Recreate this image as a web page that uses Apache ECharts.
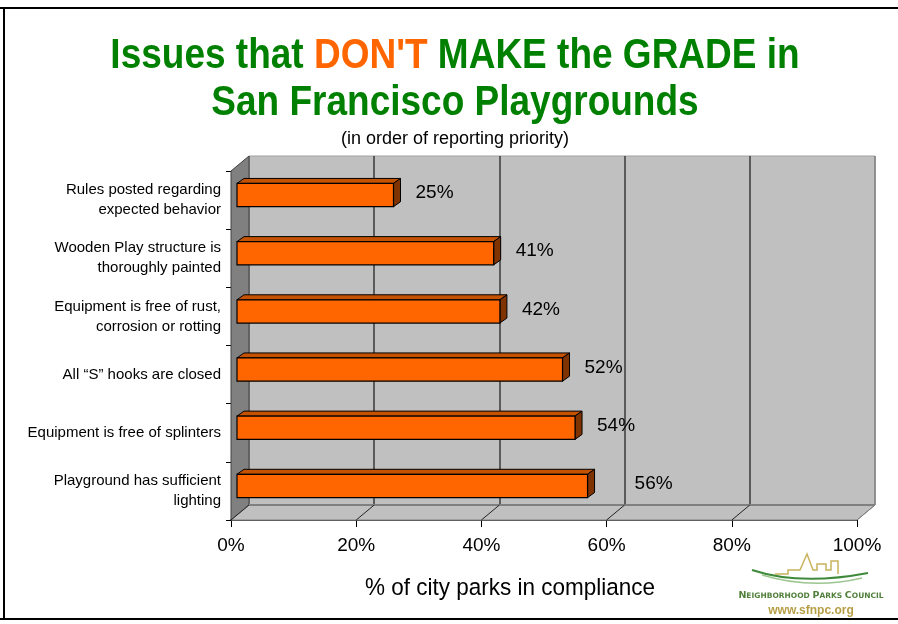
<!DOCTYPE html>
<html>
<head>
<meta charset="utf-8">
<title>Issues that DON'T MAKE the GRADE</title>
<script src="https://cdn.jsdelivr.net/npm/echarts@6/dist/echarts.min.js"></script>
<style>
html, body {
	margin: 0;
	padding: 0;
	background: #fff;
}

#chart {
	width: 898px;
	height: 624px;
}
</style>
</head>

<body>
	<div id="chart"></div>
</body>
<script type="text/javascript">

    // data
    var categories = [
        'Rules posted regarding\nexpected behavior',
        'Wooden Play structure is\nthoroughly painted',
        'Equipment is free of rust,\ncorrosion or rotting',
        'All \u201cS\u201d hooks are closed',
        'Equipment is free of splinters',
        'Playground has sufficient\nlighting'
    ];
    var compliance = [25, 41, 42, 52, 54, 56];
    var tickValues = [0, 20, 40, 60, 80, 100];

    var FONT = 'Arial, "Liberation Sans", sans-serif';

    // front plane of the 3d box, and the shift to the back wall
    var F = {left: 231, top: 171, width: 626, height: 349};
    var DX = 18, DY = -15;
    // bar sits a third of the way back
    var BX = 6, BY = -5;
    // bar depth
    var PX = 7, PY = -5;

    var chart = echarts.init(document.getElementById('chart'));

    function renderBar(params, api) {
        var v = api.value(0);
        var idx = api.value(1);
        var start = api.coord([0, idx]);
        var end = api.coord([v, idx]);
        var band = api.size([0, 1])[1];
        var h = band * 0.4;
        var x0 = start[0] + BX, x1 = end[0] + BX;
        var yt = start[1] + BY - h / 2, yb = yt + h;
        // the last label was moved further out in the original
        var gap = idx === compliance.length - 1 ? 40 : 15;
        return {
            type: 'group',
            children: [{
                type: 'polygon',
                shape: {points: [[x0, yt], [x1, yt], [x1 + PX, yt + PY], [x0 + PX, yt + PY]]},
                style: {fill: '#C45200', stroke: '#000', lineWidth: 1}
            }, {
                type: 'polygon',
                shape: {points: [[x1, yt], [x1 + PX, yt + PY], [x1 + PX, yb + PY], [x1, yb]]},
                style: {fill: '#7F3300', stroke: '#000', lineWidth: 1}
            }, {
                type: 'rect',
                shape: {x: x0, y: yt, width: x1 - x0, height: h},
                style: {fill: '#FF6600', stroke: '#000', lineWidth: 1.2}
            }, {
                type: 'text',
                x: x1 + PX + gap,
                y: yt + h / 2 - 2,
                style: {
                    text: v + '%',
                    fill: '#000',
                    fontSize: 19,
                    fontFamily: FONT,
                    align: 'left',
                    verticalAlign: 'middle'
                }
            }]
        };
    }

    // walls, floor and the lines on the floor
    var deco = [];
    deco.push({
        type: 'polygon', z: 1,
        shape: {points: [[F.left, F.top], [F.left + DX, F.top + DY], [F.left + DX, F.top + F.height + DY], [F.left, F.top + F.height]]},
        style: {fill: '#808080', stroke: '#404040', lineWidth: 1}
    });
    deco.push({
        type: 'polygon', z: 1,
        shape: {points: [[F.left, F.top + F.height], [F.left + DX, F.top + F.height + DY],
                         [F.left + F.width + DX, F.top + F.height + DY], [F.left + F.width, F.top + F.height]]},
        style: {fill: '#C0C0C0', stroke: '#808080', lineWidth: 1}
    });
    deco.push({
        type: 'line', z: 1,
        shape: {x1: F.left + DX, y1: F.top + F.height + DY, x2: F.left + F.width + DX, y2: F.top + F.height + DY},
        style: {stroke: '#808080', lineWidth: 2}
    });
    tickValues.forEach(function (t) {
        var fx = F.left + F.width * t / 100;
        deco.push({
            type: 'line', z: 1,
            shape: {x1: fx, y1: F.top + F.height, x2: fx + DX, y2: F.top + F.height + DY},
            style: {stroke: t === 100 ? '#808080' : '#222', lineWidth: 1}
        });
    });

    // outer frame
    deco.push({type: 'line', z: 5, shape: {x1: 0, y1: 8, x2: 898, y2: 8}, style: {stroke: '#000', lineWidth: 2}});
    deco.push({type: 'line', z: 5, shape: {x1: 4, y1: 8, x2: 4, y2: 619}, style: {stroke: '#000', lineWidth: 2}});
    deco.push({type: 'line', z: 5, shape: {x1: 0, y1: 619, x2: 898, y2: 619}, style: {stroke: '#000', lineWidth: 2}});

    // titles
    deco.push({
        type: 'text', z: 5, x: 455, y: 56, scaleY: 1.15,
        style: {
            text: 'Issues that {o|DON\'T} MAKE the GRADE in',
            fill: '#008000', fontSize: 37, fontWeight: 'bold', fontFamily: FONT,
            align: 'center', verticalAlign: 'middle',
            rich: {o: {fill: '#FF6600', fontSize: 37, fontWeight: 'bold', fontFamily: FONT}}
        }
    });
    deco.push({
        type: 'text', z: 5, x: 455, y: 103, scaleY: 1.15,
        style: {
            text: 'San Francisco Playgrounds',
            fill: '#008000', fontSize: 37, fontWeight: 'bold', fontFamily: FONT,
            align: 'center', verticalAlign: 'middle'
        }
    });
    deco.push({
        type: 'text', z: 5, x: 455, y: 139,
        style: {text: '(in order of reporting priority)', fill: '#000', fontSize: 18, fontFamily: FONT,
                align: 'center', verticalAlign: 'middle'}
    });
    deco.push({
        type: 'text', z: 5, x: 510, y: 588, scaleY: 1.1,
        style: {text: '% of city parks in compliance', fill: '#000', fontSize: 22.5, fontFamily: FONT,
                align: 'center', verticalAlign: 'middle'}
    });

    // logo
    deco.push({
        type: 'bezierCurve', z: 5,
        shape: {x1: 752, y1: 570, cpx1: 800, cpy1: 586, x2: 868, y2: 573},
        style: {stroke: '#3f8a3a', lineWidth: 2, fill: null}
    });
    deco.push({
        type: 'bezierCurve', z: 5,
        shape: {x1: 762, y1: 575, cpx1: 812, cpy1: 590, x2: 862, y2: 578},
        style: {stroke: '#9cc58f', lineWidth: 1.5, fill: null}
    });
    deco.push({
        type: 'polyline', z: 5,
        shape: {points: [[775, 574], [788, 574], [788, 570], [800, 570], [807, 554], [813, 570],
                         [817, 570], [817, 564], [826, 564], [826, 570], [831, 570], [831, 561],
                         [838, 561], [838, 574]]},
        style: {stroke: '#C8B35C', lineWidth: 1.5, fill: null}
    });
    deco.push({
        type: 'text', z: 5, x: 811, y: 596,
        style: {
            text: '{b|N}EIGHBORHOOD {b|P}ARKS {b|C}OUNCIL',
            fill: '#4f7f3a', fontSize: 7.5, fontWeight: 'bold', fontFamily: '"DejaVu Sans", sans-serif',
            align: 'center', verticalAlign: 'middle',
            rich: {b: {fill: '#4f7f3a', fontSize: 9.5, fontWeight: 'bold', fontFamily: '"DejaVu Sans", sans-serif'}}
        }
    });
    deco.push({
        type: 'text', z: 5, x: 811, y: 611,
        style: {text: 'www.sfnpc.org', fill: '#B59E46', fontSize: 12, fontWeight: 'bold', fontFamily: FONT,
                align: 'center', verticalAlign: 'middle'}
    });

    var option = {
        animation: false,
        backgroundColor: '#fff',
        grid: [{
            left: F.left, top: F.top, width: F.width, height: F.height
        }, {
            left: F.left + DX, top: F.top + DY, width: F.width, height: F.height,
            show: true, backgroundColor: '#C0C0C0', borderColor: '#A0A0A0', borderWidth: 1
        }],
        xAxis: [{
            type: 'value',
            gridIndex: 0,
            min: 0, max: 100, interval: 20,
            axisLine: {show: true, lineStyle: {color: '#404040', width: 2}},
            axisTick: {show: true, length: 7, lineStyle: {color: '#000'}},
            axisLabel: {formatter: '{value}%', fontSize: 19, fontFamily: FONT, color: '#000', margin: 16},
            splitLine: {show: false}
        }, {
            type: 'value',
            gridIndex: 1,
            min: 0, max: 100, interval: 20,
            axisLine: {show: false},
            axisTick: {show: false},
            axisLabel: {show: false},
            splitLine: {show: true, lineStyle: {
                color: ['#808080', '#3a3a3a', '#3a3a3a', '#3a3a3a', '#3a3a3a', '#808080'],
                width: 1.5
            }}
        }],
        yAxis: [{
            type: 'category',
            gridIndex: 0,
            inverse: true,
            data: categories,
            axisLine: {show: true, lineStyle: {color: '#000', width: 1}},
            axisTick: {show: true, length: 5, lineStyle: {color: '#000'}},
            axisLabel: {fontSize: 15, lineHeight: 20, fontFamily: FONT, color: '#000', margin: 10, align: 'right'}
        }, {
            type: 'category',
            gridIndex: 1,
            inverse: true,
            data: categories,
            show: false
        }],
        graphic: deco,
        series: [{
            type: 'custom',
            xAxisIndex: 0,
            yAxisIndex: 0,
            z: 3,
            renderItem: renderBar,
            encode: {x: 0, y: 1},
            data: compliance.map(function (v, i) { return [v, i]; })
        }]
    };

    chart.setOption(option);
</script>
</html>
